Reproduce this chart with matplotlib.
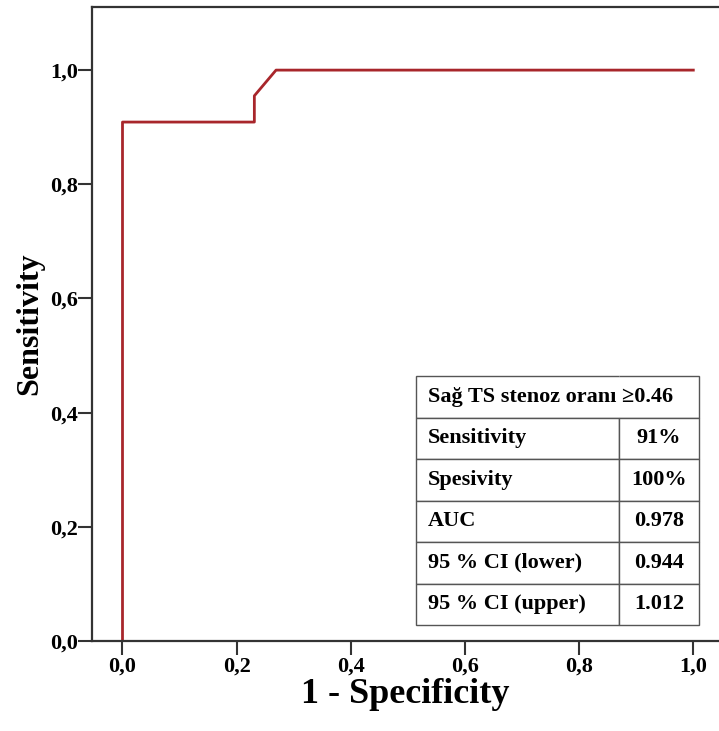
import matplotlib.pyplot as plt

plt.rcParams["font.family"] = ["Liberation Serif", "DejaVu Serif"]
plt.rcParams["font.weight"] = "bold"

# ROC curve points (1 - specificity, sensitivity)
fpr = [0.0, 0.0, 0.231, 0.231, 0.269, 1.0]
tpr = [0.0, 0.909, 0.909, 0.955, 1.0, 1.0]

ticks = [0.0, 0.2, 0.4, 0.6, 0.8, 1.0]
tick_labels = ["0,0", "0,2", "0,4", "0,6", "0,8", "1,0"]

table_title = "Sağ TS stenoz oranı ≥0.46"
row_names = ["Sensitivity", "Spesivity", "AUC", "95 % CI (lower)", "95 % CI (upper)"]
row_values = ["91%", "100%", "0.978", "0.944", "1.012"]

fig = plt.figure(figsize=(7.19, 7.31), dpi=100)
ax = fig.add_axes([0.1275, 0.1231, 0.8725, 0.8669])

ax.plot(fpr, tpr, color="#a8262b", lw=2)

xmin, xmax = -0.054, 1.045
ymin, ymax = 0.0, 1.11
ax.set_xlim(xmin, xmax)
ax.set_ylim(ymin, ymax)

ax.set_xticks(ticks)
ax.set_xticklabels(tick_labels)
ax.set_yticks(ticks)
ax.set_yticklabels(tick_labels)
ax.tick_params(direction="out", length=10, width=1.5, color="#333333",
               labelsize=16)
ax.tick_params(axis="y", pad=0)
ax.tick_params(axis="x", pad=1)

for s in ["left", "top", "bottom"]:
    ax.spines[s].set_color("#333333")
    ax.spines[s].set_linewidth(1.6)
ax.spines["right"].set_visible(False)

ax.set_xlabel("1 - Specificity", fontsize=26, fontweight="bold", labelpad=1)
ax.set_ylabel("Sensitivity", fontsize=23, fontweight="bold", labelpad=4)

# table in lower right
cells = [[table_title, ""]] + [[n, v] for n, v in zip(row_names, row_values)]
x0, x1 = 0.514, 1.010
y0, y1 = 0.028, 0.464
bx = (x0 - xmin) / (xmax - xmin)
bw = (x1 - x0) / (xmax - xmin)
by = (y0 - ymin) / (ymax - ymin)
bh = (y1 - y0) / (ymax - ymin)
tbl = ax.table(cellText=cells, bbox=[bx, by, bw, bh], colWidths=[203, 80])
tbl.auto_set_font_size(False)
for (r, c), cell in tbl.get_celld().items():
    cell.set_edgecolor("#555555")
    cell.set_linewidth(1.0)
    cell.get_text().set_fontsize(16)
    cell.get_text().set_fontweight("bold")
    if c == 0:
        cell.PAD = 0.06
        cell._loc = "left"
        cell.get_text().set_horizontalalignment("left")
    else:
        cell._loc = "center"
        cell.get_text().set_horizontalalignment("center")
tbl[0, 0].visible_edges = "BLT"
tbl[0, 1].visible_edges = "BRT"
tbl[0, 1].set_fill(False)
tbl[0, 0].get_text().set_zorder(10)

fig.savefig("out.png", dpi=100)
